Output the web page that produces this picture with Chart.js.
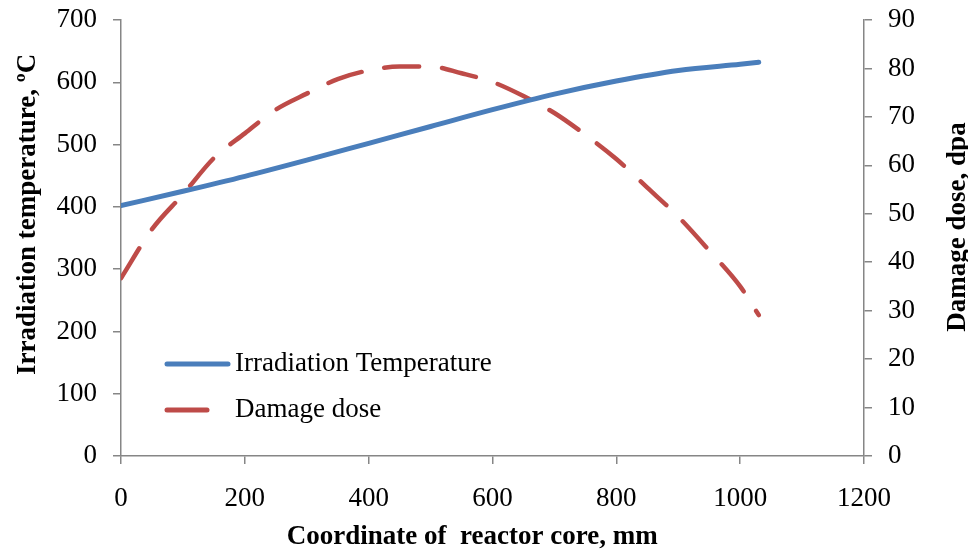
<!DOCTYPE html>
<html>
<head>
<meta charset="utf-8">
<script src="https://cdn.jsdelivr.net/npm/chart.js@4/dist/chart.umd.min.js"></script>
<style>
html,body{margin:0;padding:0;background:#fff;}
#wrap{width:968px;height:555px;position:relative;}
</style>
</head>
<body>
<div id="wrap"><canvas id="c" width="968" height="555"></canvas></div>
<script>
// ---- data ----
const tempX = [0, 100, 200, 300, 400, 500, 600, 700, 800, 900, 1000, 1030];
const tempValues = [402, 425, 449, 475, 502, 529, 556, 581, 602, 619, 629, 632];

const doseX = [0, 50, 100, 150, 200, 250, 300, 350, 400, 450, 500, 550, 600, 650, 700, 750, 800, 850, 900, 950, 1000, 1030];
const doseValues = [36.7, 46.8, 54.0, 61.5, 66.6, 71.5, 74.8, 77.8, 79.6, 80.4, 80.4, 79.0, 77.2, 74.3, 70.8, 66.3, 61.3, 55.4, 49.4, 42.4, 35.0, 29.1];

const seriesNames = ['Irradiation Temperature', 'Damage dose'];
const xTitle = 'Coordinate of  reactor core, mm';
const yLeftTitle = 'Irradiation temperature, \u00BAC';
const yRightTitle = 'Damage dose, dpa';

const FONT = "'Liberation Serif', 'Times New Roman', serif";
const AXIS = '#868686';
const BLUE = '#4A7EBB';
const RED = '#BE4B48';

const legendPlugin = {
  id: 'insideLegend',
  afterDatasetsDraw(chart) {
    const ctx = chart.ctx;
    ctx.save();
    ctx.lineCap = 'round';
    ctx.lineWidth = 5;
    const items = [
      {y: 364, x1: 167, x2: 228, color: BLUE, text: seriesNames[0]},
      {y: 410, x1: 167, x2: 207, color: RED, text: seriesNames[1]}
    ];
    items.forEach(it => {
      ctx.strokeStyle = it.color;
      ctx.beginPath();
      ctx.moveTo(it.x1, it.y);
      ctx.lineTo(it.x2, it.y);
      ctx.stroke();
      ctx.fillStyle = '#000';
      ctx.font = '27px ' + FONT;
      ctx.textBaseline = 'middle';
      ctx.textAlign = 'left';
      ctx.fillText(it.text, 235, it.y);
    });
    ctx.restore();
  }
};

// right axis title reads bottom-to-top in the reference
const rightTitlePlugin = {
  id: 'rightTitle',
  afterDraw(chart) {
    const ctx = chart.ctx;
    const s = chart.scales.y1;
    ctx.save();
    ctx.translate(958, (s.top + s.bottom) / 2 - 11);
    ctx.rotate(-Math.PI / 2);
    ctx.font = 'bold 27px ' + FONT;
    ctx.fillStyle = '#000';
    ctx.textAlign = 'center';
    ctx.textBaseline = 'middle';
    ctx.fillText(yRightTitle, 0, 0);
    ctx.restore();
  }
};

const tickFont = {family: FONT, size: 27};
const titleFont = {family: FONT, size: 27, weight: 'bold', lineHeight: 1};
const noGroup = v => String(v);
function zeroPad(s) { s.paddingTop = 0; s.paddingBottom = 0; s.paddingLeft = 0; s.paddingRight = 0; }

new Chart(document.getElementById('c'), {
  type: 'line',
  data: {
    datasets: [
      {
        label: seriesNames[0],
        data: tempX.map((x, i) => ({x: x, y: tempValues[i]})),
        yAxisID: 'y',
        borderColor: BLUE,
        borderWidth: 5,
        pointRadius: 0,
        cubicInterpolationMode: 'monotone',
        borderCapStyle: 'round',
        fill: false
      },
      {
        label: seriesNames[1],
        data: doseX.map((x, i) => ({x: x, y: doseValues[i]})),
        yAxisID: 'y1',
        borderColor: RED,
        borderWidth: 4.5,
        borderDash: [35, 23],
        borderCapStyle: 'round',
        pointRadius: 0,
        cubicInterpolationMode: 'monotone',
        fill: false
      }
    ]
  },
  options: {
    responsive: false,
    animation: false,
    layout: {padding: {top: 20, left: 0, right: 0, bottom: 0}},
    plugins: {legend: {display: false}, tooltip: {enabled: false}},
    scales: {
      x: {
        type: 'linear',
        min: 0, max: 1200,
        ticks: {stepSize: 200, color: '#000', font: tickFont, padding: 19, maxRotation: 0, callback: noGroup},
        grid: {drawOnChartArea: false, drawTicks: true, tickLength: 8, color: AXIS, lineWidth: 1.5},
        border: {color: AXIS, width: 1.5},
        title: {display: true, text: xTitle + '      ', color: '#000', font: titleFont, padding: {top: 0, bottom: 4.5}},
        afterFit(s) { s.height = 99; zeroPad(s); }
      },
      y: {
        position: 'left',
        min: 0, max: 700,
        ticks: {stepSize: 100, color: '#000', font: tickFont, padding: 16, callback: noGroup},
        grid: {drawOnChartArea: false, drawTicks: true, tickLength: 8, color: AXIS, lineWidth: 1.5},
        border: {color: AXIS, width: 1.5},
        title: {display: true, text: '       ' + yLeftTitle, color: '#000', font: titleFont, padding: {top: 14.5, bottom: 0}},
        afterFit(s) { s.width = 121; zeroPad(s); }
      },
      y1: {
        position: 'right',
        min: 0, max: 90,
        ticks: {stepSize: 10, color: '#000', font: tickFont, padding: 16, callback: noGroup},
        grid: {drawOnChartArea: false, drawTicks: true, tickLength: 8, color: AXIS, lineWidth: 1.5},
        border: {color: AXIS, width: 1.5},
        title: {display: false, text: yRightTitle},
        afterFit(s) { s.width = 104; zeroPad(s); }
      }
    }
  },
  plugins: [legendPlugin, rightTitlePlugin]
});
</script>
</body>
</html>
